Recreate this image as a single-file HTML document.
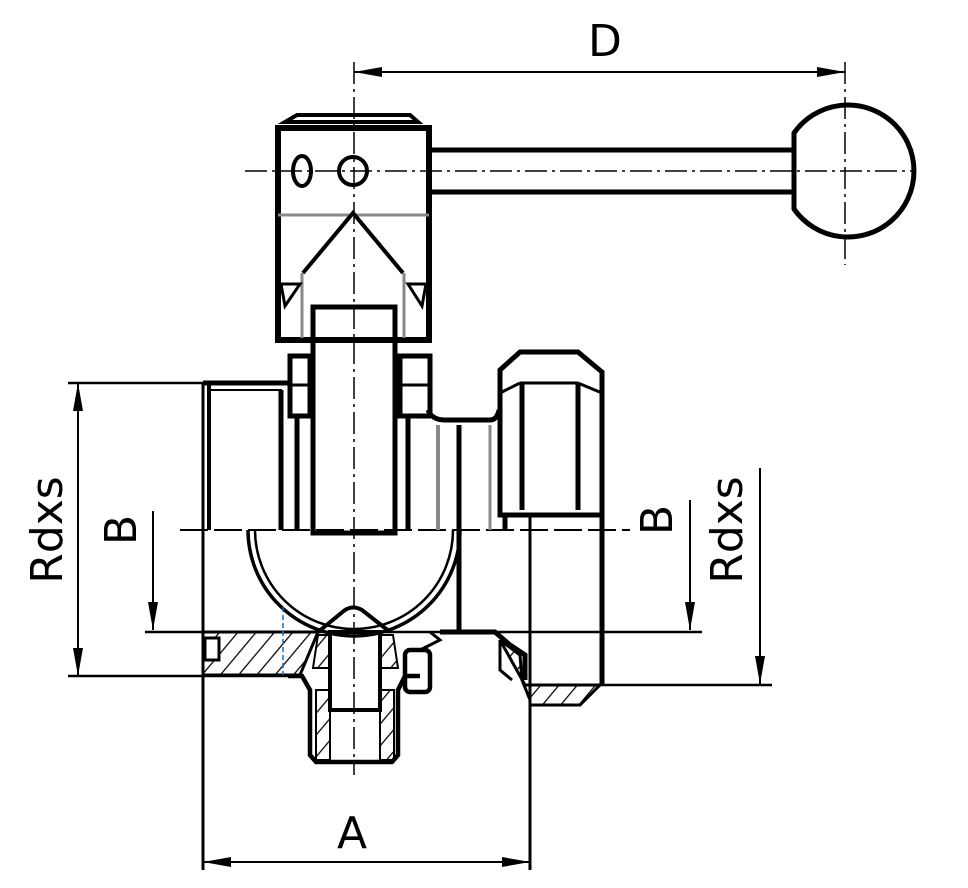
<!DOCTYPE html>
<html><head><style>html,body{margin:0;padding:0;background:#fff}svg{display:block}</style></head>
<body>
<svg width="968" height="888" viewBox="0 0 968 888" xmlns="http://www.w3.org/2000/svg" font-family="'DejaVu Sans','Liberation Sans',sans-serif">
<defs>
<pattern id="h" width="14" height="14" patternUnits="userSpaceOnUse" patternTransform="rotate(40)"><line x1="0" y1="0" x2="0" y2="14" stroke="#000" stroke-width="2.5"/></pattern>
</defs>
<g fill="none" stroke="#000" stroke-width="2.5">
<!-- center lines -->
<line x1="245" y1="171" x2="912" y2="171" stroke-dasharray="22,5,3,5" stroke-width="1.5"/>
<line x1="354" y1="62" x2="354" y2="775" stroke-dasharray="22,5,3,5" stroke-width="1.5"/>
<line x1="845" y1="62" x2="845" y2="265" stroke-dasharray="22,5,3,5" stroke-width="1.5"/>
<line x1="180" y1="530" x2="630" y2="530" stroke-dasharray="28,6" stroke-width="2"/>
<!-- D dimension -->
<line x1="354" y1="72" x2="845" y2="72" stroke-width="2"/>
<!-- Handle -->
<path d="M297,115 H410 L418,122 H285 Z" stroke-width="4"/>
<rect x="278" y="128" width="151" height="212" stroke-width="6"/>
<line x1="429" y1="150" x2="792" y2="150" stroke-width="5"/>
<line x1="429" y1="192" x2="792" y2="192" stroke-width="5"/>
<path d="M794,133 A66,66 0 1 1 794,209 Z" stroke-width="5"/>
<circle cx="353" cy="171" r="14" stroke-width="4"/>
<ellipse cx="302" cy="171" rx="9" ry="15" stroke-width="4"/>
<line x1="278" y1="215" x2="429" y2="215" stroke="#888" stroke-width="3"/>
<path d="M303,273 L353,213 L403,273" stroke-width="4"/>
<line x1="302" y1="273" x2="302" y2="338" stroke="#888" stroke-width="3"/>
<line x1="404" y1="273" x2="404" y2="338" stroke="#888" stroke-width="3"/>
<path d="M281,284 H300 L285,306 Z" stroke-width="3"/>
<path d="M426,284 H408 L422,306 Z" stroke-width="3"/>
<!-- stem -->
<rect x="313" y="307" width="82" height="226" stroke-width="5"/>
<!-- nuts -->
<rect x="290" y="356" width="20" height="60" stroke-width="5"/>
<line x1="290" y1="385" x2="310" y2="385" stroke-width="3"/>
<rect x="400" y="356" width="30" height="60" stroke-width="5"/>
<line x1="400" y1="385" x2="430" y2="385" stroke-width="3"/>
<!-- body left -->
<line x1="203" y1="383" x2="203" y2="870" stroke-width="3"/>
<line x1="209" y1="383" x2="209" y2="530" stroke-width="4"/>
<line x1="203" y1="383" x2="288" y2="383" stroke-width="5"/>
<line x1="209" y1="390" x2="282" y2="390" stroke-width="2"/>
<line x1="281" y1="390" x2="281" y2="530" stroke-width="5"/>
<line x1="297" y1="416" x2="297" y2="530" stroke-width="5"/>
<line x1="408" y1="416" x2="408" y2="530" stroke-width="5"/>
<line x1="438" y1="425" x2="438" y2="530" stroke="#888" stroke-width="4"/>
<line x1="459" y1="425" x2="459" y2="630" stroke-width="5"/>
<line x1="490" y1="425" x2="490" y2="530" stroke="#888" stroke-width="3"/>
<path d="M428,410 Q432,420 445,420 H490 Q497,420 499,410" stroke-width="5"/>
<!-- union nut -->
<path d="M500,370 L520,352 H578 L602,372 V515 H500 Z" stroke-width="5"/>
<line x1="520" y1="383" x2="578" y2="383" stroke-width="3"/>
<line x1="500" y1="393" x2="520" y2="383" stroke-width="3"/>
<line x1="602" y1="393" x2="578" y2="383" stroke-width="3"/>
<line x1="522" y1="383" x2="522" y2="510" stroke-width="5"/>
<line x1="578" y1="383" x2="578" y2="510" stroke-width="5"/>
<line x1="530" y1="515" x2="530" y2="870" stroke-width="3"/>
<line x1="602" y1="515" x2="602" y2="685" stroke-width="5"/>
<line x1="505" y1="515" x2="505" y2="530" stroke-width="5"/>
<!-- disc -->
<path d="M248,530 A106,106 0 0 0 460,530" stroke-width="3.5"/>
<path d="M255,530 A99,99 0 0 0 453,530" stroke-width="2.5"/>
<!-- bottom line -->
<line x1="145" y1="632" x2="702" y2="632" stroke-width="2.5"/>
<!-- left hatched flange -->
<path d="M203,632 H318 L300,675 H203 Z" fill="url(#h)" stroke-width="3"/>
<rect x="205" y="638" width="14" height="22" fill="#fff" stroke-width="3"/>
<line x1="283" y1="607" x2="283" y2="675" stroke="#1a6fb5" stroke-width="1.5" stroke-dasharray="5,3"/>
<!-- center boss -->
<path d="M318,632 L345,610 Q353,605 362,610 L390,632" stroke-width="4"/>
<path d="M288,676 L302,676 L310,690 V755 L316,762 H392 L398,755 V690 L405,676 H420" stroke-width="4.5"/>
<rect x="330" y="632" width="50" height="78" stroke-width="4"/>
<path d="M316,690 L330,690 V760 H316 Z" fill="url(#h)" stroke-width="2"/>
<path d="M380,690 H394 V760 H380 Z" fill="url(#h)" stroke-width="2"/>
<path d="M318,635 L330,635 L330,668 L313,668 Z" fill="url(#h)" stroke-width="2"/>
<path d="M380,635 L393,635 L398,668 L380,668 Z" fill="url(#h)" stroke-width="2"/>
<rect x="405" y="650" width="25" height="42" rx="5" stroke-width="4.5"/>
<path d="M430,632 L440,640 L420,650" stroke-width="3"/>
<!-- right fitting -->
<path d="M440,632 H495 L510,645 L525,655 V680" stroke-width="5"/>
<path d="M500,640 L520,655 L522,680 L530,700 L530,705 H580 L600,685 H525 Z" fill="url(#h)" stroke-width="3"/>
<path d="M500,640 L500,670 L512,680" stroke-width="3"/>
<line x1="600" y1="685" x2="772" y2="685" stroke-width="2.5"/>
<!-- Rdxs left -->
<line x1="68" y1="383" x2="205" y2="383" stroke-width="2.5"/>
<line x1="68" y1="676" x2="290" y2="676" stroke-width="2.5"/>
<line x1="78" y1="383" x2="78" y2="676" stroke-width="2"/>
<!-- B left -->
<line x1="153" y1="511" x2="153" y2="630" stroke-width="2"/>
<!-- B right -->
<line x1="690" y1="500" x2="690" y2="630" stroke-width="2"/>
<!-- Rdxs right -->
<line x1="760" y1="468" x2="760" y2="684" stroke-width="2"/>
<!-- A -->
<line x1="203" y1="862" x2="530" y2="862" stroke-width="2"/>
</g>
<g fill="#000" stroke="none">
<!-- arrowheads -->
<polygon points="354,72 382,67 382,77"/>
<polygon points="845,72 817,67 817,77"/>
<polygon points="78,383 73,411 83,411"/>
<polygon points="78,676 73,648 83,648"/>
<polygon points="153,630 148,602 158,602"/>
<polygon points="690,630 685,602 695,602"/>
<polygon points="760,684 755,656 765,656"/>
<polygon points="203,862 231,857 231,867"/>
<polygon points="530,862 502,857 502,867"/>
</g>
<g fill="#000" font-size="44">
<text x="605" y="56" text-anchor="middle">D</text>
<text x="352" y="848" text-anchor="middle">A</text>
<text transform="translate(62,530) rotate(-90)" text-anchor="middle">Rdxs</text>
<text transform="translate(136,530) rotate(-90)" text-anchor="middle">B</text>
<text transform="translate(672,520) rotate(-90)" text-anchor="middle">B</text>
<text transform="translate(742,530) rotate(-90)" text-anchor="middle">Rdxs</text>
</g>
</svg>
</body></html>
